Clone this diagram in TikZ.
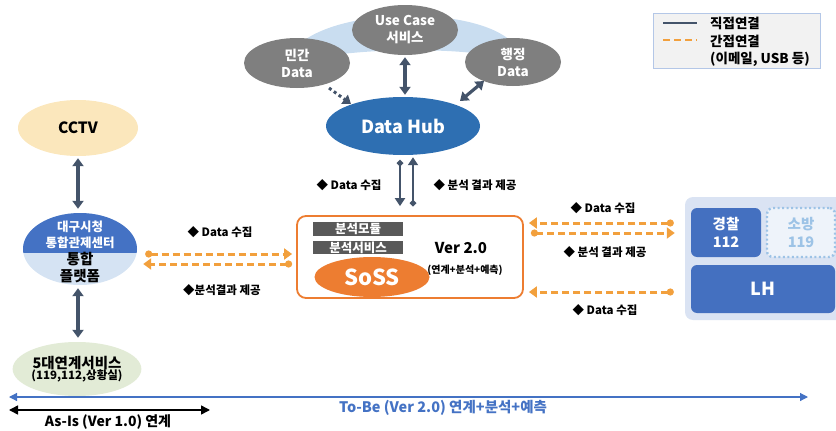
\documentclass[tikz,border=0pt]{standalone}
\usepackage{fontspec}
\setmainfont{Noto Sans CJK KR}
\usetikzlibrary{shapes.geometric,arrows.meta,calc}
\definecolor{greyE}{HTML}{7F7F7F}
\definecolor{hubblue}{HTML}{2E6FB2}
\definecolor{darkarr}{HTML}{44546A}
\definecolor{sossor}{HTML}{ED7D31}
\definecolor{dashor}{HTML}{F2A03D}
\definecolor{band}{HTML}{C9DDF0}
\definecolor{tongtop}{HTML}{4472C4}
\definecolor{tongbot}{HTML}{D5E3F3}
\definecolor{cctvc}{HTML}{FBE7BC}
\definecolor{fivec}{HTML}{E2EBD6}
\definecolor{panelbg}{HTML}{DAE3F3}
\definecolor{police}{HTML}{4470C0}
\definecolor{fireb}{HTML}{9DC3E6}
\definecolor{firef}{HTML}{EEF3FA}
\definecolor{legb}{HTML}{B4C7E7}
\definecolor{legf}{HTML}{F2F2F2}
\definecolor{modc}{HTML}{595959}
\definecolor{tlblue}{HTML}{4472C4}
\newcommand\fz[2]{\fontsize{#1}{#2}\selectfont\bfseries}
\tikzset{
  gell/.style={ellipse,fill=greyE,text=white,inner sep=0pt,align=center,font=\fz{13.5}{17}},
  darr/.style={draw=darkarr,line width=3.2pt,{Triangle[length=8pt,width=11pt]}-{Triangle[length=8pt,width=11pt]}},
  thinarr/.style={draw=darkarr,line width=2.4pt},
  odash/.style={draw=dashor,line width=3pt,dash pattern=on 7pt off 4pt,{Circle[length=7pt]}-{Triangle[length=8pt,width=11pt]}},
  lbl/.style={inner sep=0pt,font=\fz{11.5}{13}},
  sbox/.style={fill=modc,text=white,inner sep=0pt,minimum width=90pt,font=\fz{12.5}{13}},
  bluebox/.style={fill=police,text=white,rounded corners=6pt,inner sep=0pt,align=center},
}
\begin{document}
\begin{tikzpicture}[x=1pt,y=-1pt]
\useasboundingbox (0,0) rectangle (836,431);
\begin{scope}
\clip (0,0) rectangle (836,431);
% band behind top ellipses
\fill[band] (295,48) .. controls (335,6) and (475,6) .. (512,42)
  -- (505,58) .. controls (460,47) and (350,47) .. (300,62) -- cycle;
\node[gell,minimum width=106pt,minimum height=50pt] (minkan) at (297,63) {민간\\Data};
\node[gell,minimum width=106pt,minimum height=50pt] (usecase) at (405,30) {Use Case\\서비스};
\node[gell,minimum width=96pt,minimum height=48pt] (haeng) at (513,62) {행정\\Data};
\node[ellipse,fill=hubblue,text=white,inner sep=0pt,minimum width=154pt,minimum height=58pt,font=\fz{18}{20}] (hub) at (403,126) {Data Hub};

\draw[draw=darkarr,line width=3pt,dash pattern=on 3pt off 3pt,-{Triangle[length=8pt,width=11pt]}]
  ($(minkan.center)+(32,25)$) -- ($(hub.center)+(-52,-22)$);
\draw[darr] ($(usecase.south)+(0,2)$) -- ($(hub.north)+(2,-2)$);
\draw[darr] ($(haeng.center)+(-29,19)$) -- ($(hub.center)+(57,-25)$);

% legend
\node[draw=legb,fill=legf,line width=1pt,minimum width=167pt,minimum height=55pt,inner sep=0pt] (legend) at (736.5,40.5) {};
\coordinate (la1) at (663,23); \coordinate (la2) at (697,23);
\coordinate (lb1) at (663,40); \coordinate (lb2) at (697,40);
\draw[draw=darkarr,line width=2.8pt] (la1) -- (la2);
\draw[draw=dashor,line width=2.8pt,dash pattern=on 7pt off 4pt] (lb1) -- (lb2);
\node[anchor=west,inner sep=0pt,font=\fz{13.5}{14}] (lt1) at (710,23) {직접연결};
\node[anchor=west,inner sep=0pt,font=\fz{13.5}{14}] (lt2) at (710,41) {간접연결};
\node[anchor=west,inner sep=0pt,font=\fz{13.5}{14}] (lt3) at (710,59) {(이메일, USB 등)};

% left column
\node[ellipse,fill=cctvc,inner sep=0pt,minimum width=120pt,minimum height=56pt,font=\fz{15.5}{16}] (cctv) at (78,128) {CCTV};
\node[ellipse,fill=tongbot,inner sep=0pt,minimum width=114pt,minimum height=72pt] (tong) at (80,249) {};
\begin{scope}
\clip (0,0) rectangle (300,252);
\fill[tongtop] (80,249) ellipse [x radius=57, y radius=36];
\end{scope}
\node[text=white,align=center,inner sep=0pt,font=\fz{12.5}{16}] (tongt) at (80,235) {대구시청\\통합관제센터};
\node[align=center,inner sep=0pt,font=\fz{14.5}{17}] (tongb) at (80,268) {통합\\플랫폼};
\node[ellipse,fill=fivec,inner sep=0pt,minimum width=120pt,minimum height=54pt,align=center] (five) at (77,369)
  {{\fz{14.5}{17}5대연계서비스}\\[-1pt]{\fz{11.5}{13}(119,112,상황실)}};
\draw[darr] ($(cctv.south)+(0,2)$) -- ($(tong.north)+(-2,-4)$);
\draw[darr] ($(tong.south)+(-2,3)$) -- ($(five.north)+(1,-4)$);

% SoSS box
\node[draw=sossor,fill=white,line width=1.8pt,rounded corners=9pt,minimum width=226pt,minimum height=82pt,inner sep=0pt] (sossbox) at (410,257) {};
\node[sbox,minimum height=14pt] (mod) at (358,229) {분석모듈};
\node[sbox,minimum height=13pt] (svc) at (358,247.5) {분석서비스};
\node[ellipse,fill=sossor,text=white,inner sep=0pt,minimum width=115pt,minimum height=40pt,font=\fz{22}{24}] (soss) at (372,277) {SoSS};
\node[inner sep=0pt,font=\fz{15}{16}] (ver) at (461,248) {Ver 2.0};
\node[inner sep=0pt,font=\fz{10}{11}] (verd) at (465,270) {(연계+분석+예측)};

% hub <-> soss
\draw[thinarr,{Circle[length=6pt]}-{Triangle[length=8pt,width=10pt]}] ($(hub.south)+(-3,5)$) -- ($(sossbox.north)+(-10,-9)$);
\draw[thinarr,{Circle[length=6pt]}-{Triangle[length=8pt,width=10pt]}] ($(sossbox.north)+(3,-9)$) -- ($(hub.south)+(10,2)$);
\node[lbl] (l1) at (349,185) {◆ Data 수집};
\node[lbl] (l2) at (475,185) {◆ 분석 결과 제공};

% left dashed
\draw[odash] ($(tong.east)+(8,5)$) -- ($(sossbox.west)+(-4,-3)$);
\draw[odash] ($(sossbox.west)+(-4,7)$) -- ($(tong.east)+(6,15)$);
\node[lbl] (l3) at (220,232) {◆ Data 수집};
\node[lbl] (l4) at (222,290) {◆분석결과 제공};

% right panel
\node[fill=panelbg,rounded corners=8pt,minimum width=160pt,minimum height=123pt,inner sep=0pt] (panel) at (765,258.5) {};
\node[bluebox,minimum width=70pt,minimum height=49pt,font=\fz{14.5}{18}] (pol) at (726,232.5) {경찰\\112};
\node[draw=fireb,fill=firef,text=fireb,line width=2.4pt,dash pattern=on 2pt off 2.5pt,rounded corners=6pt,minimum width=68pt,minimum height=49pt,inner sep=0pt,align=center,font=\fz{14.5}{18}] (fire) at (801,232.5) {소방\\119};
\node[bluebox,minimum width=144pt,minimum height=48pt,font=\fz{18}{20}] (lh) at (763,289) {LH};

\draw[odash] ($(panel.west)+(-11,-35.5)$) -- ($(sossbox.east)+(5,-34)$);
\draw[odash] ($(sossbox.east)+(7,-24)$) -- ($(panel.west)+(-10,-25.5)$);
\draw[odash] ($(panel.west)+(-11,33.5)$) -- ($(sossbox.east)+(5,35)$);
\node[lbl] (l5) at (603,208) {◆ Data 수집};
\node[lbl] (l6) at (605,252) {◆ 분석 결과 제공};
\node[lbl] (l7) at (605,310) {◆ Data 수집};

% timelines
\coordinate (ta) at (9,397); \coordinate (tb) at (808,397);
\coordinate (sa) at (9,410); \coordinate (sb) at (210,410);
\draw[tlblue,line width=1.2pt,{Triangle[length=8pt,width=8pt]}-{Triangle[length=8pt,width=8pt]}] (ta) -- (tb);
\draw[black,line width=1.5pt,{Triangle[length=9pt,width=9pt]}-{Triangle[length=9pt,width=9pt]}] (sa) -- (sb);
\node[inner sep=0pt,font=\fz{14}{15}] (asis) at (108,422) {As-Is (Ver 1.0) 연계};
\node[inner sep=0pt,text=tlblue,font=\fz{14.5}{15}] (tobe) at (443,408) {To-Be (Ver 2.0) 연계+분석+예측};
\end{scope}
\end{tikzpicture}
\end{document}
